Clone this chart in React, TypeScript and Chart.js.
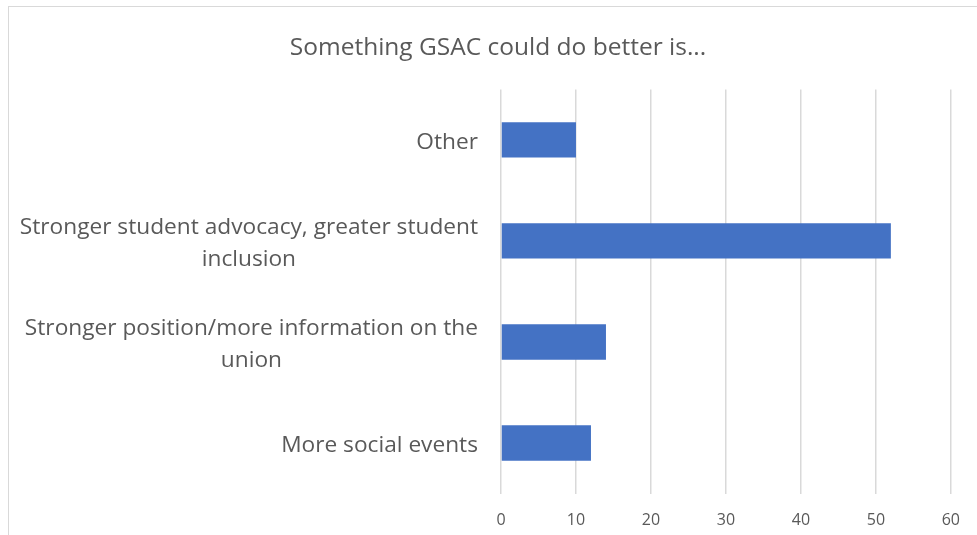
import React, { useEffect, useRef } from "react";
import { Chart, registerables } from "chart.js";

Chart.register(...registerables);

const titleText = "Something GSAC could do better is...";
const categories: string[][] = [
  ["Other"],
  ["Stronger student advocacy, greater student", "inclusion"],
  ["Stronger position/more information on the", "union"],
  ["More social events"],
];
const values: number[] = [10, 52, 14, 12];
const xTicks: number[] = [0, 10, 20, 30, 40, 50, 60];

const TEXT = "#595959";
const FONT = "'Open Sans', 'Liberation Sans', sans-serif";

const labelPlugin = {
  id: "wrappedLabels",
  afterDraw(chart: any) {
    const y = chart.scales.y;
    const ctx = chart.ctx;
    const right = chart.chartArea.left - 23;
    ctx.save();
    ctx.font = `22.7px ${FONT}`;
    ctx.fillStyle = TEXT;
    ctx.textAlign = "center";
    ctx.textBaseline = "middle";
    const lineH = 32;
    categories.forEach((lines, i) => {
      const cy = y.getPixelForTick(i) + 2.5;
      const maxW = Math.max(...lines.map((l) => ctx.measureText(l).width));
      const cx = right - maxW / 2;
      lines.forEach((l, k) => {
        ctx.fillText(l, cx, cy + (k - (lines.length - 1) / 2) * lineH);
      });
    });
    ctx.restore();
  },
};

export default function App() {
  const ref = useRef<HTMLCanvasElement>(null);
  useEffect(() => {
    document.body.style.overflow = "hidden";
    const chart = new Chart(ref.current!, {
      type: "bar",
      data: {
        labels: categories.map((c) => c.join(" ")),
        datasets: [
          {
            data: values,
            backgroundColor: "#4472C4",
            borderWidth: 0,
            barPercentage: 0.35,
            categoryPercentage: 1,
          },
        ],
      },
      options: {
        indexAxis: "y",
        responsive: false,
        animation: false,
        layout: { padding: { left: 32, right: 22, top: 0, bottom: 0 } },
        plugins: {
          legend: { display: false },
          tooltip: { enabled: false },
          title: {
            display: true,
            text: titleText,
            color: TEXT,
            font: { family: FONT, size: 24.5, weight: "normal" },
            padding: { top: 26, bottom: 27 },
          },
        },
        scales: {
          x: {
            min: 0,
            max: 60,
            afterBuildTicks: (s: any) => {
              s.ticks = xTicks.map((v) => ({ value: v }));
            },
            grid: { color: "#d9d9d9", lineWidth: 1.5, drawTicks: false },
            border: { display: false },
            ticks: {
              color: TEXT,
              font: { family: FONT, size: 16 },
              padding: 17,
            },
            afterFit: (s: any) => {
              s.height = 41.5;
            },
          },
          y: {
            grid: { display: false },
            border: { display: false },
            ticks: { display: false },
            afterFit: (s: any) => {
              s.width = 460;
            },
          },
        },
      },
      plugins: [labelPlugin],
    } as any);
    return () => chart.destroy();
  }, []);
  return (
    <div
      style={{
        position: "fixed",
        left: 8,
        top: 6,
        width: 1000,
        height: 560,
        borderTop: "1px solid #d9d9d9",
        borderLeft: "1px solid #d9d9d9",
        background: "#fff",
      }}
    >
      <canvas ref={ref} width={968} height={528} style={{ display: "block" }} />
    </div>
  );
}
